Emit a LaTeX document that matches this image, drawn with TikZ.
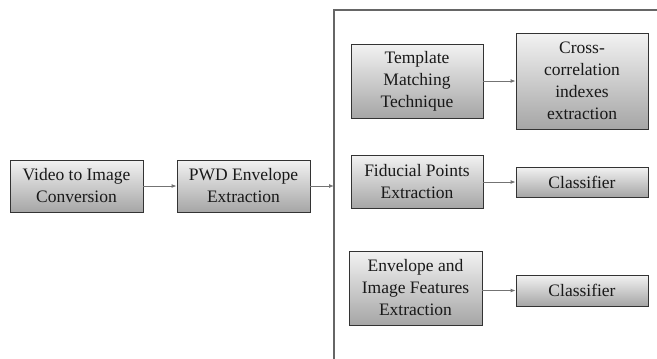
\documentclass[tikz,border=0pt]{standalone}
\usepackage{fontspec}
\setmainfont{Liberation Serif}
\usetikzlibrary{arrows.meta,shadows}
\begin{document}
\begin{tikzpicture}[x=1pt,y=-1pt,
  procbox/.style={draw=black!80, line width=0.8pt, top color=black!5, bottom color=black!35,
    align=center, inner sep=0pt, font=\fontsize{17.5}{22}\selectfont, text=black!90,
    drop shadow={shadow xshift=1.2pt, shadow yshift=-1.2pt, opacity=0.35, fill=black}},
  link/.style={draw=black!55, line width=0.9pt, -{Latex[length=5pt,width=4pt]}},
  frame/.style={draw=black!60, line width=1.1pt}]
\useasboundingbox (0,0) rectangle (657,359);
\node[procbox, minimum width=133pt, minimum height=52pt] (vid) at (76.5,186) {Video to Image\\Conversion};
\node[procbox, minimum width=133pt, minimum height=52pt] (pwd) at (243.5,186) {PWD Envelope\\Extraction};
\node[procbox, minimum width=132pt, minimum height=74pt] (tmp) at (417,81) {Template\\Matching\\Technique};
\node[procbox, minimum width=132pt, minimum height=96pt] (xc) at (582,81) {Cross-\\correlation\\indexes\\extraction};
\node[procbox, minimum width=132pt, minimum height=53pt] (fid) at (417,181.5) {Fiducial Points\\Extraction};
\node[procbox, minimum width=132pt, minimum height=30pt] (cl1) at (582,182) {Classifier};
\node[procbox, minimum width=133pt, minimum height=74pt] (env) at (415.5,288) {Envelope and\\Image Features\\Extraction};
\node[procbox, minimum width=132pt, minimum height=31pt] (cl2) at (582,290.5) {Classifier};
\coordinate (ftop) at (334,10);
\coordinate (fbot) at (334,359);
\coordinate (fright) at (657,10);
\coordinate (fin) at (334,186);
\draw[frame] (fbot) -- (ftop) -- (fright);
\draw[link] (vid) -- (pwd);
\draw[link] (pwd) -- (fin);
\draw[link] (tmp) -- (xc);
\draw[link] (fid.east |- cl1) -- (cl1);
\draw[link] (env.east |- cl2) -- (cl2);
\end{tikzpicture}
\end{document}
